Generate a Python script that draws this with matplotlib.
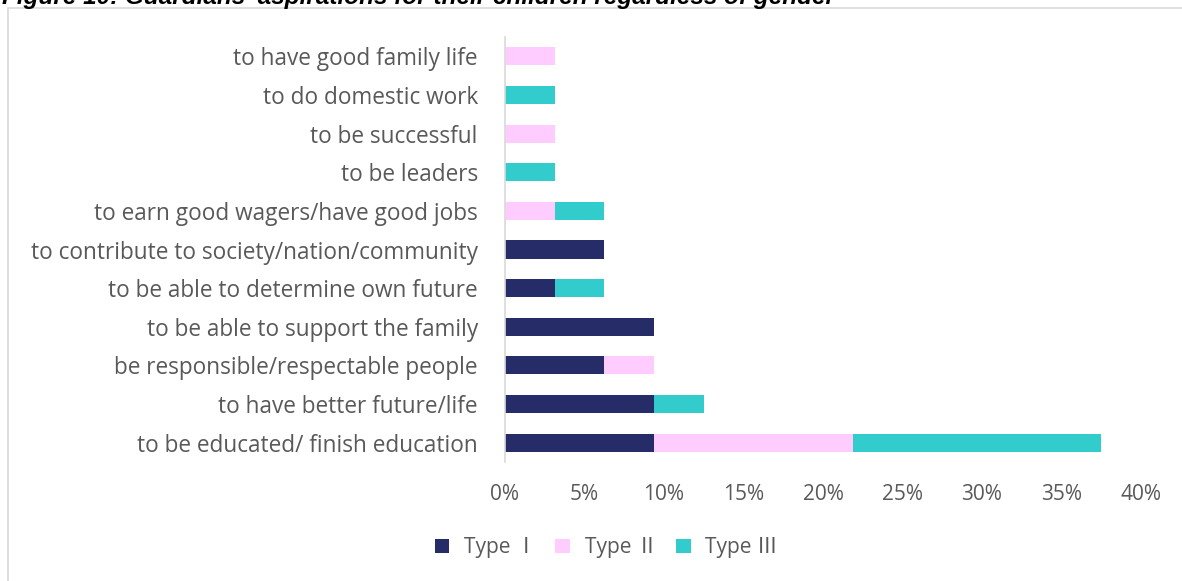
import matplotlib
matplotlib.use("Agg")
import matplotlib.pyplot as plt
from matplotlib.patches import Rectangle
import numpy as np

# Share of guardians (%) naming each aspiration, split by guardian type
categories = [
    "to be educated/ finish education",
    "to have better future/life",
    "be responsible/respectable people",
    "to be able to support the family",
    "to be able to determine own future",
    "to contribute to society/nation/community",
    "to earn good wagers/have good jobs",
    "to be leaders",
    "to be successful",
    "to do domestic work",
    "to have good family life",
]
type_1 = [9.375, 9.375, 6.25, 9.375, 3.125, 6.25, 0, 0, 0, 0, 0]
type_2 = [12.5, 0, 3.125, 0, 0, 0, 3.125, 0, 3.125, 0, 3.125]
type_3 = [15.625, 3.125, 0, 0, 3.125, 0, 3.125, 3.125, 0, 3.125, 0]
series_names = ["Type \u2160", "Type \u2161", "Type \u2162"]
xticks = [0, 5, 10, 15, 20, 25, 30, 35, 40]

colors = ["#262C68", "#FFCCFF", "#33CCCC"]
text_gray = "#595959"
fam = ["Open Sans", "DejaVu Sans"]
legend_fam = ["Open Sans", "Noto Sans CJK SC", "DejaVu Sans"]

fig = plt.figure(figsize=(11.82, 5.81), dpi=100)
ax = fig.add_axes([0.4272, 0.2048, 0.5381, 0.7315])

y = np.arange(len(categories))
left = np.zeros(len(categories))
for vals, col, name in zip([type_1, type_2, type_3], colors, series_names):
    vals = np.array(vals, dtype=float)
    ax.barh(y, vals, left=left, height=0.47, color=col, label=name)
    left += vals

ax.set_xlim(0, 40)
ax.set_ylim(-0.5, len(categories) - 0.5)
ax.set_xticks(xticks)
ax.set_xticklabels([f"{t}%" for t in xticks], fontsize=15, color=text_gray, family=fam)
ax.set_yticks(y)
ax.set_yticklabels(categories, fontsize=16.3, color=text_gray, family=fam)
ax.tick_params(axis="both", length=0)
ax.tick_params(axis="x", pad=16)
ax.tick_params(axis="y", pad=19.5)
for s in ["top", "right", "bottom"]:
    ax.spines[s].set_visible(False)
ax.spines["left"].set_color("#D9D9D9")
ax.spines["left"].set_linewidth(1.2)

leg = fig.legend(loc="center", bbox_to_anchor=(0.513, 0.057), ncol=3, frameon=False,
                 prop={"family": legend_fam, "size": 15}, handlelength=0.7, handleheight=0.7,
                 columnspacing=0.9, handletextpad=0.7)
for t in leg.get_texts():
    t.set_color(text_gray)

# Outer frame around the chart
fig.patches.append(Rectangle((8 / 1182, -0.05), 1.1, 1 - 8 / 581 + 0.05,
                             transform=fig.transFigure, fill=False,
                             edgecolor="#D9D9D9", linewidth=1.2, clip_on=False))

fig.text(0.002, 0.9931, "Figure 10: Guardians' aspirations for their children regardless of gender",
         fontsize=17.5, fontweight="bold", fontstyle="italic", family="Liberation Sans",
         va="baseline", ha="left", color="black")

fig.savefig("out.png", dpi=100)
